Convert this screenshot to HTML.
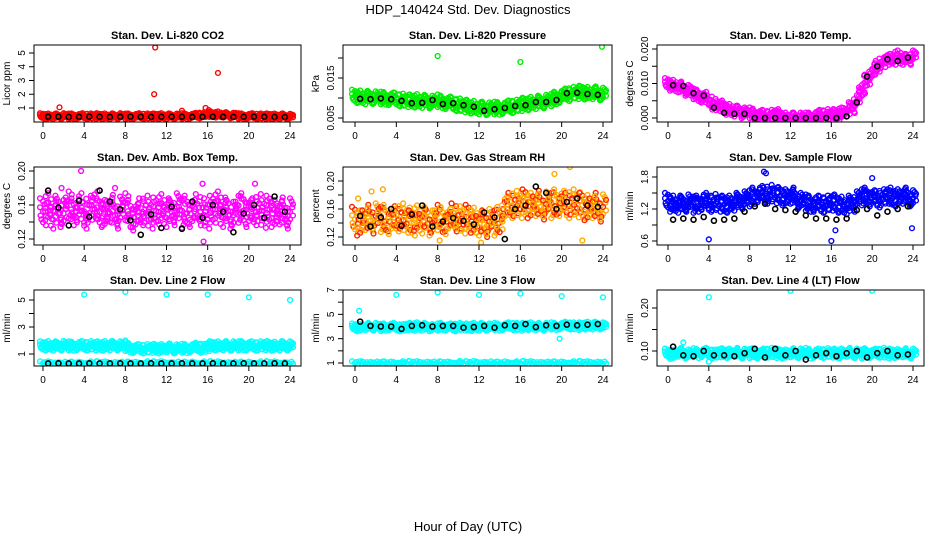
<!DOCTYPE html>
<html><head><meta charset="utf-8"><style>
html,body{margin:0;padding:0;background:#fff;}
svg{display:block;font-family:"Liberation Sans",sans-serif;}
</style></head><body>
<svg id="chart" width="936" height="540" viewBox="0 0 936 540">
<text x="468" y="14" text-anchor="middle" font-size="13">HDP_140424  Std. Dev. Diagnostics</text>
<text x="468" y="531" text-anchor="middle" font-size="13">Hour of Day (UTC)</text>
</svg>
<script>
const hoursC=[0,0.5,1,1.5,2,2.5,3,3.5,4,4.5,5,5.5,6,6.5,7,7.5,8,8.5,9,9.5,10,10.5,11,11.5,12,12.5,13,13.5,14,14.5,15,15.5,16,16.5,17,17.5,18,18.5,19,19.5,20,20.5,21,21.5,22,22.5,23,23.5,24];
const hoursK=[0.5,1.5,2.5,3.5,4.5,5.5,6.5,7.5,8.5,9.5,10.5,11.5,12.5,13.5,14.5,15.5,16.5,17.5,18.5,19.5,20.5,21.5,22.5,23.5];
const xTicks=[0,4,8,12,16,20,24];

const co2Col=[0.42,0.4,0.41,0.4,0.42,0.4,0.41,0.4,0.42,0.41,0.4,0.42,0.41,0.4,0.41,0.42,0.4,0.41,0.4,0.42,0.41,0.4,0.41,0.42,0.4,0.41,0.4,0.42,0.41,0.42,0.45,0.5,0.55,0.5,0.55,0.5,0.48,0.45,0.42,0.41,0.4,0.42,0.41,0.4,0.41,0.4,0.41,0.4,0.38];
const co2Blk=[0.36,0.37,0.35,0.36,0.37,0.36,0.35,0.36,0.37,0.36,0.35,0.36,0.37,0.36,0.35,0.36,0.37,0.36,0.35,0.36,0.37,0.36,0.35,0.34];
const co2OutX=[1.6,10.8,10.9,13.5,15.8,16.1,17.0,18.7];
const co2OutY=[1.05,2.0,5.4,0.8,1.0,0.85,3.55,0.65];

const presCol=[0.0105,0.0103,0.0100,0.0102,0.0101,0.0100,0.0099,0.0098,0.0097,0.0095,0.0093,0.0092,0.0094,0.0091,0.0092,0.0090,0.0093,0.0090,0.0088,0.0085,0.0083,0.0080,0.0078,0.0077,0.0075,0.0074,0.0073,0.0075,0.0074,0.0076,0.0078,0.0080,0.0083,0.0085,0.0087,0.0088,0.0090,0.0092,0.0095,0.0100,0.0105,0.0108,0.0112,0.0113,0.0115,0.0112,0.0113,0.0111,0.0110];
const presBlk=[0.0098,0.0097,0.0099,0.0097,0.0093,0.0087,0.0088,0.0095,0.0085,0.0087,0.0082,0.0078,0.0068,0.0072,0.0075,0.0080,0.0082,0.0090,0.0090,0.0095,0.0112,0.0113,0.0110,0.0108];
const presOutX=[8.0,16.0,23.9];
const presOutY=[0.0205,0.0190,0.0228];

const tempCol=[0.010,0.0095,0.009,0.0085,0.008,0.007,0.0065,0.006,0.005,0.004,0.0035,0.003,0.0025,0.002,0.002,0.0015,0.0015,0.001,0.0008,0.0005,0.0008,0.001,0.0005,0,0,0,0,0,0,0.0005,0.0008,0.001,0.0008,0.001,0.0015,0.002,0.003,0.005,0.008,0.011,0.013,0.015,0.016,0.017,0.017,0.018,0.017,0.017,0.018];
const tempBlk=[0.0095,0.0093,0.0072,0.0065,0.0030,0.0015,0.0012,0.0012,0,0,0,0,0,0,0,0,0,0.0005,0.0045,0.0120,0.0150,0.0170,0.0165,0.0175];
const tempOutX=[];
const tempOutY=[];

const ambCol=[0.152,0.158,0.148,0.155,0.15,0.16,0.152,0.158,0.148,0.155,0.16,0.152,0.15,0.156,0.148,0.154,0.158,0.15,0.146,0.152,0.155,0.148,0.153,0.157,0.15,0.152,0.158,0.149,0.155,0.15,0.157,0.152,0.148,0.155,0.16,0.15,0.153,0.148,0.155,0.158,0.15,0.152,0.157,0.149,0.155,0.15,0.153,0.148,0.152];
const ambBlk=[0.177,0.157,0.136,0.165,0.146,0.177,0.164,0.155,0.142,0.125,0.149,0.133,0.158,0.132,0.164,0.145,0.16,0.152,0.128,0.15,0.16,0.145,0.17,0.152];
const ambOutX=[3.7,15.6,20.6,15.5,7.0,1.8];
const ambOutY=[0.20,0.117,0.185,0.185,0.18,0.18];

const rhCol=[0.145,0.14,0.148,0.143,0.15,0.145,0.148,0.142,0.146,0.15,0.144,0.14,0.147,0.143,0.145,0.14,0.148,0.145,0.142,0.15,0.146,0.143,0.148,0.144,0.14,0.138,0.142,0.14,0.145,0.16,0.165,0.168,0.165,0.17,0.165,0.168,0.163,0.167,0.165,0.17,0.168,0.165,0.17,0.166,0.165,0.162,0.165,0.16,0.163];
const rhBlk=[0.15,0.135,0.148,0.16,0.136,0.152,0.165,0.135,0.142,0.147,0.143,0.138,0.155,0.148,0.117,0.16,0.165,0.192,0.183,0.16,0.17,0.175,0.165,0.163];
const rhOutX=[2.7,8.2,12.2,20.8,22.0,19.3,0.3,1.6];
const rhOutY=[0.188,0.115,0.112,0.22,0.115,0.21,0.175,0.185];

const flowCol=[1.35,1.3,1.28,1.3,1.32,1.28,1.3,1.35,1.3,1.33,1.3,1.28,1.3,1.32,1.35,1.38,1.4,1.45,1.48,1.45,1.5,1.46,1.45,1.42,1.45,1.4,1.35,1.32,1.3,1.3,1.28,1.3,1.32,1.3,1.28,1.25,1.3,1.38,1.42,1.45,1.4,1.38,1.42,1.45,1.4,1.42,1.45,1.42,1.4];
const flowBlk=[1.0,1.02,1.0,1.05,0.98,1.0,1.02,1.15,1.25,1.3,1.2,1.18,1.15,1.08,1.02,1.02,1.0,1.02,1.18,1.2,1.08,1.15,1.2,1.25];
const flowOutX=[9.4,9.6,16.0,16.4,23.9,20.0,4.0];
const flowOutY=[1.9,1.87,0.6,0.8,0.84,1.78,0.63];

const l2Col=[1.6,1.62,1.58,1.6,1.63,1.6,1.58,1.62,1.6,1.62,1.6,1.58,1.62,1.6,1.63,1.6,1.55,1.45,1.4,1.38,1.4,1.42,1.38,1.4,1.45,1.4,1.38,1.42,1.4,1.45,1.5,1.42,1.55,1.62,1.6,1.62,1.58,1.6,1.6,1.62,1.6,1.58,1.6,1.62,1.6,1.58,1.6,1.62,1.6];
const l2Low=[0.32,0.32,0.33,0.32,0.32,0.33,0.32,0.32,0.33,0.32,0.32,0.33,0.32,0.32,0.33,0.32,0.32,0.33,0.32,0.32,0.33,0.32,0.32,0.33,0.32,0.32,0.33,0.32,0.32,0.33,0.32,0.32,0.33,0.32,0.32,0.33,0.32,0.32,0.33,0.32,0.32,0.33,0.32,0.32,0.33,0.32,0.32,0.33,0.32];
const l2Blk=[0.3,0.31,0.3,0.3,0.31,0.3,0.3,0.31,0.3,0.3,0.31,0.3,0.3,0.31,0.3,0.3,0.31,0.3,0.3,0.31,0.3,0.3,0.31,0.3];
const l2OutX=[4,8,12,16,20,24,8];
const l2OutY=[5.4,5.6,5.4,5.4,5.2,5.0,2.0];

const l3Col=[3.95,3.9,4.0,3.95,4.0,3.92,3.95,4.0,3.95,3.9,4.0,3.95,4.05,3.95,4.0,3.9,3.95,4.0,3.95,3.9,4.0,3.95,3.92,4.0,3.95,4.0,3.95,4.0,3.95,4.0,4.05,4.0,3.95,4.0,4.05,4.0,3.95,4.0,4.05,4.0,4.05,4.1,4.05,4.0,4.05,4.1,4.05,4.1,4.05];
const l3Low=[1.0,1.0,1.02,1.0,1.0,1.02,1.0,1.0,1.02,1.0,1.0,1.02,1.0,1.0,1.02,1.0,1.0,1.02,1.0,1.0,1.02,1.0,1.0,1.02,1.0,1.0,1.02,1.0,1.0,1.02,1.0,1.0,1.02,1.0,1.0,1.02,1.0,1.0,1.02,1.0,1.0,1.02,1.0,1.0,1.02,1.0,1.0,1.02,1.0];
const l3Blk=[4.4,4.05,4.0,4.0,3.8,4.05,4.1,4.0,4.05,4.05,3.9,3.95,4.05,3.9,4.1,4.05,4.2,3.95,4.1,4.05,4.15,4.1,4.15,4.2];
const l3OutX=[0.4,4,8,12,16,20,24,19.8];
const l3OutY=[5.3,6.6,6.8,6.6,6.7,6.5,6.4,3.0];

const l4Col=[0.095,0.092,0.097,0.095,0.093,0.096,0.094,0.097,0.095,0.093,0.096,0.094,0.095,0.097,0.093,0.095,0.094,0.096,0.093,0.095,0.097,0.094,0.095,0.093,0.096,0.094,0.095,0.097,0.093,0.095,0.094,0.096,0.095,0.093,0.095,0.097,0.094,0.095,0.093,0.096,0.094,0.095,0.097,0.093,0.095,0.094,0.096,0.093,0.095];
const l4Blk=[0.11,0.09,0.088,0.1,0.09,0.09,0.088,0.095,0.105,0.085,0.105,0.09,0.1,0.08,0.09,0.095,0.088,0.095,0.1,0.085,0.095,0.1,0.09,0.092];
const l4OutX=[4,12,20,1.5,4.0];
const l4OutY=[0.225,0.24,0.24,0.12,0.075];

const cols=[{L:34,R:301,x0:43,x24:290},{L:343,R:612,x0:355,x24:603},{L:657,R:924,x0:668,x24:913}];
const rows=[{T:45,B:122},{T:167,B:245},{T:290,B:366}];
const panels=[
 {name:'co2',title:'Stan. Dev. Li-820 CO2',yl:'Licor ppm',c:0,r:0,v1:1,p1:108,v2:5,p2:53,ticks:[1,2,3,4,5],labels:['1','2','3','4','5'],col:[co2Col],color:['#ff0000'],spread:3,blk:co2Blk,ox:co2OutX,oy:co2OutY},
 {name:'pressure',title:'Stan. Dev. Li-820 Pressure',yl:'kPa',c:1,r:0,v1:0.005,p1:118,v2:0.015,p2:78,ticks:[0.005,0.010,0.015,0.020],labels:['0.005','','0.015',''],col:[presCol],color:['#00ee00'],spread:7,blk:presBlk,ox:presOutX,oy:presOutY},
 {name:'temp',title:'Stan. Dev. Li-820 Temp.',yl:'degrees C',c:2,r:0,v1:0,p1:118,v2:0.02,p2:49,ticks:[0,0.005,0.010,0.015,0.020],labels:['0.000','','0.010','','0.020'],col:[tempCol],color:['#ff00ff'],spread:6,blk:tempBlk,ox:tempOutX,oy:tempOutY},
 {name:'amb-box-temp',title:'Stan. Dev. Amb. Box Temp.',yl:'degrees C',c:0,r:1,v1:0.12,p1:239,v2:0.20,p2:171,ticks:[0.12,0.14,0.16,0.18,0.20],labels:['0.12','','0.16','','0.20'],col:[ambCol],color:['#ff00ff'],spread:15,blk:ambBlk,ox:ambOutX,oy:ambOutY},
 {name:'gas-stream-rh',title:'Stan. Dev. Gas Stream RH',yl:'percent',c:1,r:1,v1:0.12,p1:237,v2:0.20,p2:181,ticks:[0.12,0.14,0.16,0.18,0.20],labels:['0.12','','0.16','','0.20'],col:[rhCol],color:['#ffaa00'],spread:14,blk:rhBlk,ox:rhOutX,oy:rhOutY,alt:'#ff2200'},
 {name:'sample-flow',title:'Stan. Dev. Sample Flow',yl:'ml/min',c:2,r:1,v1:0.6,p1:241,v2:1.8,p2:177,ticks:[0.6,0.9,1.2,1.5,1.8],labels:['0.6','','1.2','','1.8'],col:[flowCol],color:['#0000ff'],spread:9,blk:flowBlk,ox:flowOutX,oy:flowOutY},
 {name:'line2-flow',title:'Stan. Dev. Line 2 Flow',yl:'ml/min',c:0,r:2,v1:1,p1:354,v2:5,p2:300,ticks:[1,2,3,4,5],labels:['1','','3','','5'],col:[l2Col,l2Low],color:['#00ffff','#00ffff'],spread:5,blk:l2Blk,ox:l2OutX,oy:l2OutY},
 {name:'line3-flow',title:'Stan. Dev. Line 3 Flow',yl:'ml/min',c:1,r:2,v1:1,p1:363,v2:7,p2:290,ticks:[1,2,3,4,5,6,7],labels:['1','','3','','5','','7'],col:[l3Col,l3Low],color:['#00ffff','#00ffff'],spread:4,blk:l3Blk,ox:l3OutX,oy:l3OutY},
 {name:'line4-flow',title:'Stan. Dev. Line 4 (LT) Flow',yl:'ml/min',c:2,r:2,v1:0.10,p1:351,v2:0.20,p2:308,ticks:[0.10,0.15,0.20],labels:['0.10','','0.20'],col:[l4Col],color:['#00ffff'],spread:5,blk:l4Blk,ox:l4OutX,oy:l4OutY}
];
const NS='http://www.w3.org/2000/svg';
const svg=document.getElementById('chart');
function mk(tag,attrs,parent){const e=document.createElementNS(NS,tag);for(const k in attrs)e.setAttribute(k,attrs[k]);parent.appendChild(e);return e;}
const jit=[[0,0],[-1.5,-0.9],[1.5,0.9],[0.8,-0.5],[-0.8,0.5],[1.2,-0.25],[-1.2,0.25],[0,-0.7],[0,0.7],[-1.5,-0.3],[1.5,0.3]];
panels.forEach(p=>{
 const C=cols[p.c],Rw=rows[p.r];
 const xs=h=>C.x0+(C.x24-C.x0)*h/24;
 const ys=v=>p.p1+(v-p.v1)*(p.p2-p.p1)/(p.v2-p.v1);
 const g=mk('g',{},svg);
 
 
 const t=mk('text',{x:(C.L+C.R)/2,y:Rw.T-6,'text-anchor':'middle','font-size':'11','font-weight':'bold'},g);
 t.textContent=p.title;
 
 
 const yl=mk('text',{x:0,y:0,'text-anchor':'middle','font-size':'10',transform:`translate(${C.L-24},${(Rw.T+Rw.B)/2}) rotate(-90)`},g);
 yl.textContent=p.yl;
 
 
 const clip=mk('clipPath',{id:'clip-'+p.name},g);
 mk('rect',{x:C.L,y:Rw.T,width:C.R-C.L,height:Rw.B-Rw.T},clip);
 const pts=mk('g',{'clip-path':`url(#clip-${p.name})`,fill:'none','stroke-width':'1.4'},g);
 
 
 p.col.forEach((arr,si)=>{
  arr.forEach((v,i)=>{
   const n=si===0?jit.length:4;
   for(let j=0;j<n;j++){
    const c=mk('circle',{cx:xs(hoursC[i])+jit[j][0]*2,cy:ys(v)+jit[(j+i)%jit.length][1]*(si===0?p.spread:2),r:2.4,stroke:(p.alt&&j%3===1)?p.alt:p.color[si]},pts);
    
    
   }
  });
 });
 p.ox.forEach((h,i)=>{
  const c=mk('circle',{cx:xs(h),cy:ys(p.oy[i]),r:2.4,stroke:p.color[0]},pts);
  
  
 });
 p.blk.forEach((v,i)=>{
  const c=mk('circle',{cx:xs(hoursK[i]),cy:ys(v),r:2.5,stroke:'#000','stroke-width':'1.6'},pts);
  
  
 });
 const box=mk('rect',{x:C.L,y:Rw.T,width:C.R-C.L,height:Rw.B-Rw.T,fill:'none',stroke:'#000','stroke-width':'1'},g);
 
 
 const xa=mk('g',{},g);
 
 
 xTicks.forEach(h=>{
  mk('line',{x1:xs(h),x2:xs(h),y1:Rw.B,y2:Rw.B+5,stroke:'#000'},xa);
  const tl=mk('text',{x:xs(h),y:Rw.B+17,'text-anchor':'middle','font-size':'10'},xa);
  tl.textContent=h;
  
  
 });
 const ya=mk('g',{},g);
 
 
 p.ticks.forEach((v,i)=>{
  mk('line',{x1:C.L-5,x2:C.L,y1:ys(v),y2:ys(v),stroke:'#000'},ya);
  if(p.labels[i]){
   const tl=mk('text',{x:0,y:0,'text-anchor':'middle','font-size':'10',transform:`translate(${C.L-9},${ys(v)}) rotate(-90)`},ya);
   tl.textContent=p.labels[i];
   
   
  }
 });
});
</script>
</body></html>
